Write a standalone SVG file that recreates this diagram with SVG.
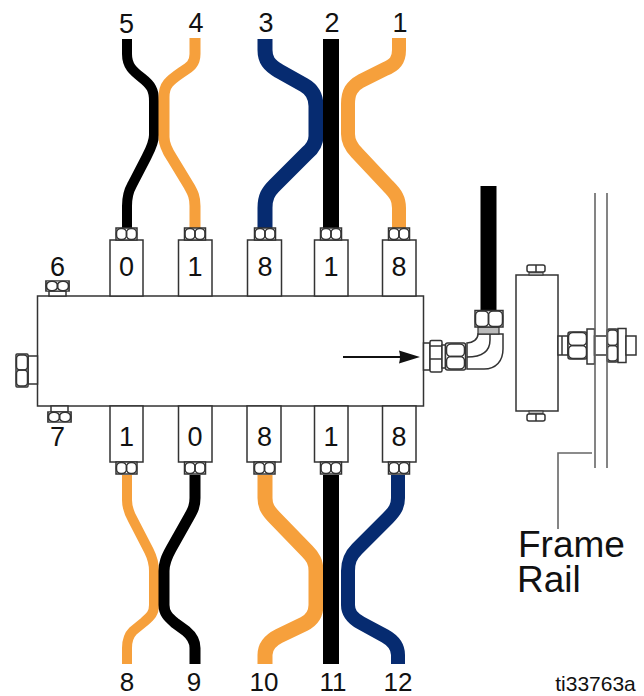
<svg xmlns="http://www.w3.org/2000/svg" width="644" height="696" viewBox="0 0 644 696">
<style>
text{font-family:"Liberation Sans",Arial,sans-serif;fill:#111;text-anchor:middle}
.n{font-size:27px}
.b{font-size:26px}
.l{fill:#fff;stroke:#333;stroke-width:1.5}
.t{fill:none;stroke:#333;stroke-width:1.5}
.g{fill:none;stroke:#666;stroke-width:1.6}
.h{fill:none;stroke-linecap:butt;stroke-linejoin:round}
.or{stroke:#f6a03c}.bk{stroke:#000}.nv{stroke:#062b70}
</style>
<defs>
<g id="nut"><rect class="l" x="-10.500" y="-6" width="21" height="12"/><rect class="t" x="-10" y="-5.500" width="10" height="11" rx="4.500"/><rect class="t" x="0" y="-5.500" width="10" height="11" rx="4.500"/></g>
</defs>
<g id="connectors">
<path class="h bk" stroke-width="10" d="M127 39V54C127 66 133 71 142 78C151 85 154 90 154 101V135C154 143 150 150 146 158L132 185C128 192 127 197 127 206V230"/>
<path class="h or" stroke-width="11" d="M195 38V54C195 64 190 67 182 72C169 81 164 85 164 97V137C164 144 168 152 172 158L189 186C193 193 195 197 195 206V230"/>
<path class="h nv" stroke-width="15" d="M265 39V50C265 60 269 65 279 71L304 85C313 90 316 97 316 106V136C316 143 313 148 307 153L275 185C268 192 265 197 265 208V230"/>
<path class="h bk" stroke-width="16" d="M331 39V230"/>
<path class="h or" stroke-width="14" d="M399 38V50C399 60 395 65 385 69L361 81C352 86 348 92 348 104V134C348 142 351 147 357 153L388 186C396 194 399 199 399 208V230"/>
<path class="h or" stroke-width="10" d="M127 475V500C127 508 129 513 133 520L149 551C153 559 154 563 154 571V605C154 613 151 616 144 622L133 631C129 635 127 640 127 648V664"/>
<path class="h bk" stroke-width="11" d="M195 475V498C195 506 193 510 189 517L171 549C166 558 164 563 164 571V605C164 613 168 617 175 623L186 631C192 636 195 641 195 648V664"/>
<path class="h nv" stroke-width="14" d="M398 475V498C398 506 395 511 388 518L357 549C350 556 348 562 348 571V605C348 613 352 618 361 623L385 636C394 641 398 647 398 655V664"/>
<path class="h or" stroke-width="15" d="M265 475V498C265 506 268 511 275 518L307 551C313 557 316 562 316 571V605C316 614 312 620 304 624L279 636C269 641 265 647 265 655V664"/>
<path class="h bk" stroke-width="16" d="M331 475V664"/>
<path class="h bk" stroke-width="16" d="M488.500 186V311"/>
</g>
<g id="manifold">
<rect class="l" x="37.500" y="296" width="386" height="110"/>
<path d="M343 357H402" stroke="#111" stroke-width="2" fill="none"/>
<path d="M399 350.500L420 357L399 363.500Q401 357 399 350.500Z" fill="#111"/>
</g>
<g id="port-top-0"><rect class="l" x="110" y="240" width="33" height="56"/><use href="#nut" x="126.500" y="234"/><text class="n" x="126.500" y="276">0</text></g>
<g id="port-top-1"><rect class="l" x="178.500" y="240" width="33.500" height="56"/><use href="#nut" x="195" y="234"/><text class="n" x="195" y="276">1</text></g>
<g id="port-top-8a"><rect class="l" x="247.500" y="240" width="34" height="56"/><use href="#nut" x="265" y="234"/><text class="n" x="265" y="276">8</text></g>
<g id="port-top-1b"><rect class="l" x="314.500" y="240" width="33.500" height="56"/><use href="#nut" x="331" y="234"/><text class="n" x="331" y="276">1</text></g>
<g id="port-top-8b"><rect class="l" x="382.500" y="240" width="33.500" height="56"/><use href="#nut" x="399" y="234"/><text class="n" x="399" y="276">8</text></g>
<g id="port-bottom-1"><rect class="l" x="110" y="406" width="33" height="56"/><use href="#nut" x="126.500" y="468"/><text class="n" x="126.500" y="446">1</text></g>
<g id="port-bottom-0"><rect class="l" x="178.500" y="406" width="33.500" height="56"/><use href="#nut" x="195" y="468"/><text class="n" x="195" y="446">0</text></g>
<g id="port-bottom-8a"><rect class="l" x="247" y="406" width="34" height="56"/><use href="#nut" x="264.500" y="468"/><text class="n" x="264.500" y="446">8</text></g>
<g id="port-bottom-1b"><rect class="l" x="314.500" y="406" width="33.500" height="56"/><use href="#nut" x="331" y="468"/><text class="n" x="331" y="446">1</text></g>
<g id="port-bottom-8b"><rect class="l" x="382.500" y="406" width="33.500" height="56"/><use href="#nut" x="399" y="468"/><text class="n" x="399" y="446">8</text></g>
<g id="plug-6"><rect class="l" x="49" y="291" width="17" height="5"/><use href="#nut" transform="translate(57.500 286) scale(1.100 .85)"/><text class="n" x="57.500" y="276">6</text></g>
<g id="plug-7"><rect class="l" x="51" y="406" width="17" height="6"/><use href="#nut" transform="translate(59.500 417) scale(1.100 .85)"/><text class="n" x="57.500" y="446">7</text></g>
<g id="plug-left"><rect class="l" x="28" y="356" width="9.500" height="28"/><rect class="l" x="16" y="354" width="12" height="33" rx="1"/><rect class="t" x="16.500" y="355" width="11" height="15" rx="3.500"/><rect class="t" x="16.500" y="370" width="11" height="16" rx="3.500"/></g>
<g id="elbow-fitting">
<rect class="l" x="423.500" y="343" width="6.500" height="27"/>
<rect class="l" x="430" y="340.500" width="12" height="31.500" rx="1.500"/>
<path class="t" d="M430 346H442M430 359H442"/>
<rect class="l" x="442" y="345" width="3.500" height="23"/>
<rect class="l" x="445.500" y="343" width="20" height="27" rx="2"/>
<rect class="t" x="446.500" y="344" width="18" height="12.500" rx="4.500"/>
<rect class="t" x="446.500" y="356.500" width="18" height="12.500" rx="4.500"/>
<path class="l" d="M467 343C473 343 478 339 478 334H503V349C503 361 496 369 484 369H467Z"/>
<path class="t" d="M490 334V340C490 351 483 357 467 357"/>
<rect x="478" y="327" width="21" height="7" fill="#bbb" stroke="#333" stroke-width="1.200"/>
<rect class="l" x="475" y="310.500" width="28" height="16.500"/>
<rect class="t" x="475.500" y="311" width="13" height="15.500" rx="4.500"/>
<rect class="t" x="488.500" y="311" width="14" height="15.500" rx="4.500"/>
</g>
<g id="filter-block">
<rect class="l" x="516" y="275" width="42" height="136"/>
<rect x="529" y="272" width="14" height="3" fill="#bbb" stroke="#333" stroke-width="1"/>
<rect class="l" x="527" y="265" width="18" height="7" rx="2"/><path class="t" d="M536 265V272"/>
<rect x="529" y="411" width="14" height="3" fill="#bbb" stroke="#333" stroke-width="1"/>
<rect class="l" x="527" y="414" width="18" height="7" rx="2"/><path class="t" d="M536 414V421"/>
</g>
<g id="mount-bolt">
<rect class="l" x="558" y="336" width="10" height="19"/>
<path class="t" d="M562 336V355"/>
<rect class="l" x="568" y="332" width="19" height="27" rx="2"/>
<rect class="t" x="568.500" y="332.500" width="18" height="13" rx="4.500"/>
<rect class="t" x="568.500" y="345.500" width="18" height="13" rx="4.500"/>
<rect class="l" x="587" y="329" width="7.500" height="35"/>
<rect class="l" x="594.500" y="336" width="12.500" height="19"/>
<rect class="l" x="607" y="329" width="11" height="33" rx="2"/>
<rect class="t" x="607.500" y="330" width="10" height="15.500" rx="3.500"/>
<rect class="t" x="607.500" y="345.500" width="10" height="15.500" rx="3.500"/>
<rect class="l" x="618" y="328.500" width="8" height="34"/>
<rect class="l" x="626" y="336" width="10" height="19"/>
</g>
<g id="frame-rail">
<path class="g" d="M595 193V468M607 193V468M558 529V453H592"/>
<text font-size="37px" style="text-anchor:start"><tspan x="518" y="557">Frame</tspan><tspan x="517" y="592">Rail</tspan></text>
</g>
<g id="labels">
<text class="n" x="126.500" y="33">5</text>
<text class="n" x="196" y="32">4</text>
<text class="n" x="266" y="32">3</text>
<text class="n" x="332" y="32">2</text>
<text class="n" x="400" y="32">1</text>
<text class="b" x="127" y="690.500">8</text>
<text class="b" x="194" y="690.500">9</text>
<text class="b" x="264" y="690.500">10</text>
<text class="b" x="333" y="690.500">11</text>
<text class="b" x="398" y="690.500">12</text>
<text x="595.500" y="691" font-size="21px">ti33763a</text>
</g>
</svg>
